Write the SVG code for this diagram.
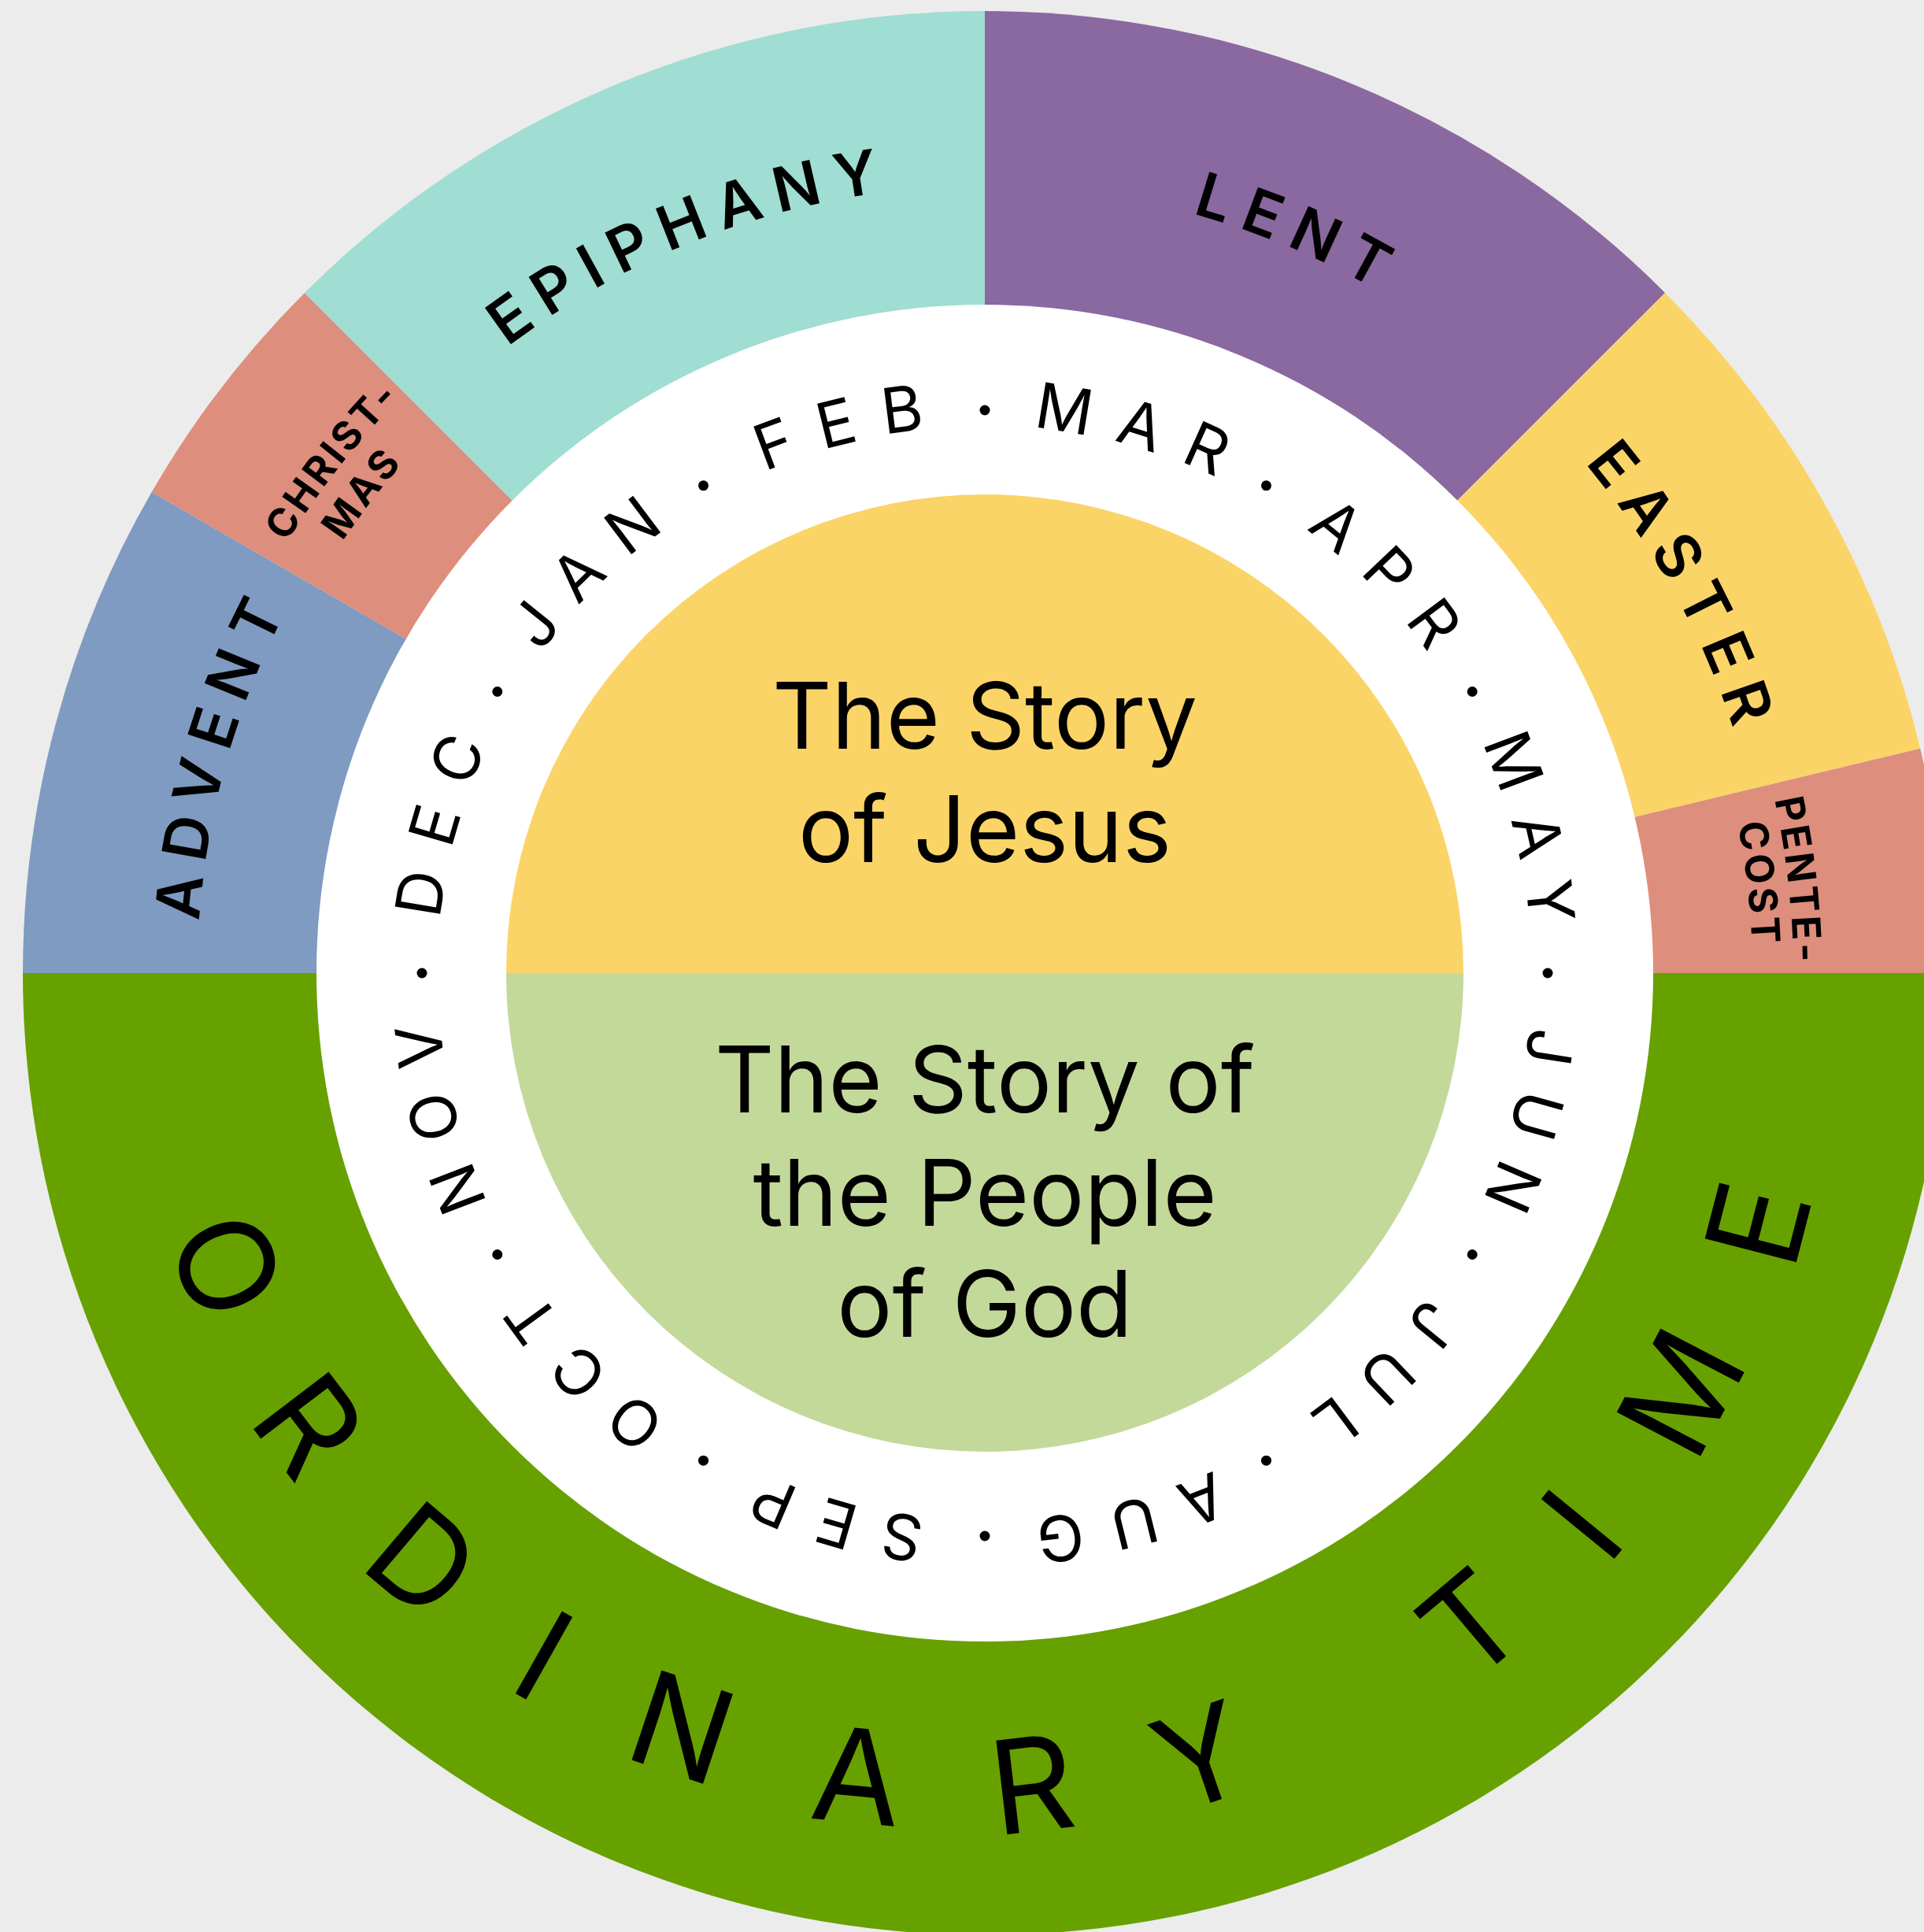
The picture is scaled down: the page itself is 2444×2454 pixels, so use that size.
<svg xmlns="http://www.w3.org/2000/svg" xmlns:xlink="http://www.w3.org/1999/xlink" width="2444" height="2454" viewBox="0 0 2444 2454">
<style>
.season{font-family:Inter,'Liberation Sans',sans-serif;font-size:78px;font-weight:600;letter-spacing:17px;fill:#000}
.small{font-family:Inter,'Liberation Sans',sans-serif;font-size:50px;font-weight:700;letter-spacing:4px;fill:#000}
.month{font-family:Inter,'Liberation Sans',sans-serif;font-size:80px;font-weight:400;letter-spacing:32px;fill:#000}
.ord{font-family:Inter,'Liberation Sans',sans-serif;font-size:165px;font-weight:400;letter-spacing:125px;fill:#000}
.story{font-family:Inter,'Liberation Sans',sans-serif;font-size:117px;font-weight:400;fill:#000;text-anchor:middle}
.dot{fill:#000}
</style>
<defs>
<path id="p695" d="M 1251 1931 A 695 695 0 1 1 1251 541 A 695 695 0 1 1 1251 1931"/>
<path id="p1000" d="M 1251 2236 A 1000 1000 0 1 1 1251 236 A 1000 1000 0 1 1 1251 2236"/>
<path id="p1042" d="M 1251 2278 A 1042 1042 0 1 1 1251 194 A 1042 1042 0 1 1 1251 2278"/>
<path id="p983" d="M 1251 2219 A 983 983 0 1 1 1251 253 A 983 983 0 1 1 1251 2219"/>
<path id="p1027" d="M 1251 2263 A 1027 1027 0 1 1 1251 209 A 1027 1027 0 1 1 1251 2263"/>
<path id="p975" d="M 1251 2211 A 975 975 0 1 1 1251 261 A 975 975 0 1 1 1251 2211"/>
<path id="pord" d="M 1251 146 A 1090 1090 0 1 0 1251 2326 A 1090 1090 0 1 0 1251 146"/>
</defs>
<rect x="0" y="0" width="2444" height="2454" fill="#ececec"/>
<g id="ordinary-time">
<path d="M 1251 1236 L 2473 1236 A 1222 1222 0 0 1 29 1236 Z" fill="#67a100"/>
<text class="ord"><textPath xlink:href="#pord" href="#pord" startOffset="51.3%" text-anchor="middle">ORDINARY TIME</textPath></text>
</g>
<g id="advent">
<path d="M 1251 1236 L 29 1236 A 1222 1222 0 0 1 192.7 625 Z" fill="#7f9bc1"/>
</g>
<g id="christmas">
<path d="M 1251 1236 L 192.7 625 A 1222 1222 0 0 1 386.9 371.9 Z" fill="#de8e7c"/>
</g>
<g id="epiphany">
<path d="M 1251 1236 L 386.9 371.9 A 1222 1222 0 0 1 1251 14 Z" fill="#a0ddd2"/>
</g>
<g id="lent">
<path d="M 1251 1236 L 1251 14 A 1222 1222 0 0 1 2115.1 371.9 Z" fill="#8a68a0"/>
</g>
<g id="easter">
<path d="M 1251 1236 L 2115.1 371.9 A 1222 1222 0 0 1 2439.2 950.7 Z" fill="#fbd467"/>
</g>
<g id="pentecost">
<path d="M 1251 1236 L 2439.2 950.7 A 1222 1222 0 0 1 2473 1236 Z" fill="#de8e7c"/>
</g>
<g id="season-labels">
<text class="season"><textPath xlink:href="#p1000" href="#p1000" startOffset="29.45%" text-anchor="middle">ADVENT</textPath></text>
<text class="season"><textPath xlink:href="#p1000" href="#p1000" startOffset="43.89%" text-anchor="middle">EPIPHANY</textPath></text>
<text class="season"><textPath xlink:href="#p1000" href="#p1000" startOffset="56.39%" text-anchor="middle">LENT</textPath></text>
<text class="season"><textPath xlink:href="#p1000" href="#p1000" startOffset="67.01%" text-anchor="middle">EASTER</textPath></text>
<text class="small"><textPath xlink:href="#p1042" href="#p1042" startOffset="35.6%" text-anchor="middle">CHRIST-</textPath></text>
<text class="small"><textPath xlink:href="#p983" href="#p983" startOffset="35.45%" text-anchor="middle">MAS</textPath></text>
<text class="small"><textPath xlink:href="#p1027" href="#p1027" startOffset="73.2%" text-anchor="middle">PENTE-</textPath></text>
<text class="small"><textPath xlink:href="#p975" href="#p975" startOffset="73.17%" text-anchor="middle">COST</textPath></text>
</g>
<g id="month-ring">
<circle cx="1251" cy="1236" r="849" fill="#ffffff"/>
<text class="month"><textPath xlink:href="#p695" href="#p695" startOffset="29.54%" text-anchor="middle">DEC</textPath></text>
<text class="month"><textPath xlink:href="#p695" href="#p695" startOffset="37.87%" text-anchor="middle">JAN</textPath></text>
<text class="month"><textPath xlink:href="#p695" href="#p695" startOffset="46.2%" text-anchor="middle">FEB</textPath></text>
<text class="month"><textPath xlink:href="#p695" href="#p695" startOffset="54.54%" text-anchor="middle">MAR</textPath></text>
<text class="month"><textPath xlink:href="#p695" href="#p695" startOffset="62.87%" text-anchor="middle">APR</textPath></text>
<text class="month"><textPath xlink:href="#p695" href="#p695" startOffset="71.2%" text-anchor="middle">MAY</textPath></text>
<text class="month"><textPath xlink:href="#p695" href="#p695" startOffset="79.54%" text-anchor="middle">JUN</textPath></text>
<text class="month"><textPath xlink:href="#p695" href="#p695" startOffset="87.87%" text-anchor="middle">JUL</textPath></text>
<text class="month"><textPath xlink:href="#p695" href="#p695" startOffset="96.2%" text-anchor="middle">AUG</textPath></text>
<text class="month"><textPath xlink:href="#p695" href="#p695" startOffset="4.54%" text-anchor="middle">SEP</textPath></text>
<text class="month"><textPath xlink:href="#p695" href="#p695" startOffset="12.87%" text-anchor="middle">OCT</textPath></text>
<text class="month"><textPath xlink:href="#p695" href="#p695" startOffset="21.2%" text-anchor="middle">NOV</textPath></text>
<circle class="dot" cx="1966" cy="1236" r="6.5"/>
<circle class="dot" cx="1870.2" cy="1593.5" r="6.5"/>
<circle class="dot" cx="1608.5" cy="1855.2" r="6.5"/>
<circle class="dot" cx="1251" cy="1951" r="6.5"/>
<circle class="dot" cx="893.5" cy="1855.2" r="6.5"/>
<circle class="dot" cx="631.8" cy="1593.5" r="6.5"/>
<circle class="dot" cx="536" cy="1236" r="6.5"/>
<circle class="dot" cx="631.8" cy="878.5" r="6.5"/>
<circle class="dot" cx="893.5" cy="616.8" r="6.5"/>
<circle class="dot" cx="1251" cy="521" r="6.5"/>
<circle class="dot" cx="1608.5" cy="616.8" r="6.5"/>
<circle class="dot" cx="1870.2" cy="878.5" r="6.5"/>
</g>
<g id="story-of-jesus">
<path d="M 643 1236 A 608 608 0 0 1 1859 1236 Z" fill="#fbd467"/>
<text class="story" x="1251" y="951">The Story</text>
<text class="story" x="1251" y="1095">of Jesus</text>
</g>
<g id="story-of-people">
<path d="M 643 1236 A 608 608 0 0 0 1859 1236 Z" fill="#c3d99a"/>
<text class="story" x="1251" y="1413">The Story of</text>
<text class="story" x="1251" y="1557">the People</text>
<text class="story" x="1251" y="1698">of God</text>
</g>
</svg>
